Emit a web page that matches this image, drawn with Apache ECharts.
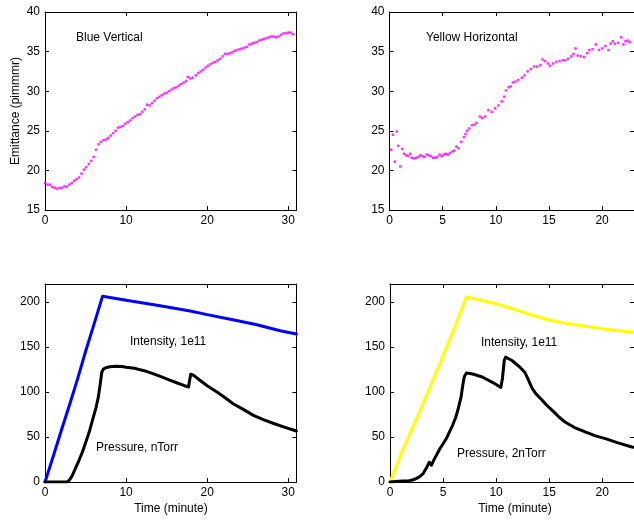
<!DOCTYPE html>
<html>
<head>
<meta charset="utf-8">
<script src="https://cdn.jsdelivr.net/npm/echarts@6/dist/echarts.min.js"></script>
<style>
  html, body { margin: 0; padding: 0; background: #fff; }
  #chart { width: 634px; height: 521px; }
</style>
</head>
<body>
<div id="chart"></div>
<script>
// 上左：Blue Vertical 发射度 [时间(分钟), 值]
const blueVertical = [
  [0.0,18.4],[0.3,18.2],[0.6,18.2],[0.9,17.9],[1.2,17.8],[1.5,17.7],[1.8,17.8],[2.1,17.8],
  [2.4,18.0],[2.7,17.9],[3.0,18.2],[3.3,18.4],[3.6,18.7],[3.9,18.9],[4.2,19.1],[4.5,19.6],
  [4.8,20.1],[5.1,20.4],[5.4,20.8],[5.7,21.2],[6.0,21.7],[6.3,22.6],[6.6,23.3],[6.9,23.6],
  [7.2,23.8],[7.5,23.9],[7.8,24.1],[8.1,24.4],[8.4,24.7],[8.7,25.0],[9.0,25.4],[9.3,25.5],
  [9.6,25.6],[9.9,25.9],[10.2,26.1],[10.5,26.3],[10.8,26.6],[11.1,26.8],[11.4,27.0],[11.7,27.1],
  [12.0,27.4],[12.3,27.7],[12.6,28.3],[12.9,28.2],[13.2,28.5],[13.5,28.8],[13.8,29.1],[14.1,29.3],
  [14.4,29.5],[14.7,29.7],[15.0,29.8],[15.3,30.0],[15.6,30.2],[15.9,30.4],[16.2,30.5],[16.5,30.7],
  [16.8,30.9],[17.1,31.1],[17.4,31.3],[17.6,31.8],[17.9,31.6],[18.2,31.7],[18.6,32.0],[18.9,32.3],
  [19.2,32.5],[19.5,32.7],[19.8,33.0],[20.1,33.2],[20.4,33.4],[20.7,33.6],[21.0,33.7],[21.3,33.9],
  [21.6,34.1],[21.9,34.4],[22.2,34.7],[22.5,34.7],[22.8,34.8],[23.1,34.9],[23.4,35.1],[23.7,35.2],
  [24.0,35.3],[24.3,35.4],[24.6,35.5],[24.9,35.6],[25.2,35.9],[25.5,36.0],[25.8,36.1],[26.1,36.2],
  [26.4,36.4],[26.7,36.5],[27.0,36.6],[27.3,36.7],[27.6,36.8],[27.9,36.9],[28.2,36.9],[28.5,36.8],
  [28.8,36.9],[29.1,37.1],[29.4,37.3],[29.7,37.3],[30.0,37.4],[30.3,37.4],[30.6,37.2]
]

// 上右：Yellow Horizontal 发射度
const yellowHorizontal = [
  [0.16,22.6],[0.32,24.5],[0.5,21.1],[0.68,24.9],[0.83,23.1],[1.02,20.5],[1.2,22.7],[1.36,22.1],
  [1.58,21.9],[1.77,21.8],[1.95,22.1],[2.1,21.6],[2.3,21.5],[2.5,21.6],[2.7,21.7],[2.9,21.9],
  [3.1,21.8],[3.3,21.7],[3.5,22.0],[3.7,21.9],[3.9,21.8],[4.1,21.6],[4.3,21.6],[4.5,21.7],
  [4.7,22.0],[4.9,21.8],[5.1,22.0],[5.3,22.1],[5.5,22.0],[5.7,22.2],[5.93,22.4],[6.1,22.5],
  [6.3,23.0],[6.5,22.8],[6.75,23.6],[7.0,24.2],[7.15,24.6],[7.3,25.0],[7.5,25.3],[7.76,25.7],
  [8.0,25.8],[8.2,26.0],[8.5,26.8],[8.7,26.6],[9.0,26.8],[9.3,27.6],[9.6,27.4],[9.94,27.85],
  [10.25,28.2],[10.55,28.7],[10.8,29.3],[10.96,30.1],[11.2,30.5],[11.4,30.6],[11.6,31.1],[11.85,31.2],
  [12.1,31.4],[12.45,31.7],[12.7,32.0],[13.0,32.5],[13.3,32.8],[13.6,33.1],[13.9,33.1],[14.2,33.3],
  [14.4,34.0],[14.65,33.8],[14.9,33.5],[15.1,33.2],[15.4,33.5],[15.7,33.7],[16.0,33.8],[16.3,33.9],
  [16.55,33.9],[16.8,34.1],[17.1,34.4],[17.3,34.7],[17.5,35.4],[17.7,34.5],[18.0,34.4],[18.3,34.3],
  [18.6,34.8],[18.8,35.2],[19.1,35.3],[19.4,35.9],[19.7,35.2],[20.0,35.4],[20.3,35.7],[20.6,35.2],
  [20.8,36.0],[21.0,36.3],[21.2,36.0],[21.5,36.1],[21.8,36.8],[22.0,35.9],[22.2,36.3],[22.4,36.4],
  [22.6,36.2]
]

// 下左：蓝束流强度 与 真空压力
const blueIntensity = [
  [0,0],[1,28],[2,57],[3,85],[4,114],[5,145],[6,174],[7.1,206.5],[10,202],[14,196],
  [17.9,190],[20,186],[23,180.5],[26,175],[29,168],[31,164.5]
]
const bluePressure = [
  [0,0],[1,0],[2,0],[2.7,0],[3.0,2],[3.3,6],[3.7,14],[4.1,22],[4.6,33],[5.1,46],[5.5,57],
  [5.96,72],[6.3,83],[6.57,94],[6.8,108],[7.0,122],[7.2,125.5],[7.5,127],[8.0,128],[8.8,128.5],
  [9.5,128.3],[10.0,127.6],[11.0,126.5],[11.6,125],[12.5,123],[13.3,120.5],[14.3,117],
  [15.3,113.5],[16.3,110],[17.2,107],[17.7,105.6],[17.8,103.6],[17.96,119.7],[18.3,118.6],
  [18.7,116],[19.1,113],[20.0,107],[21.2,100],[22.0,95],[23.2,87],[24.4,81],[25.7,74],
  [27.0,69],[28.2,65],[29.5,61],[31,56.7]
]

// 下右：黄束流强度 与 真空压力
const yellowIntensity = [
  [0,0],[1,30],[2,57],[3,84],[4,112],[5,140],[6,169],[7.2,205.5],[10,198],[12.2,190],
  [13.5,185],[15,180],[16.5,176.5],[18.4,173],[20.5,169.5],[23,166.5]
]
const yellowPressure = [
  [0,0],[0.5,0.5],[1.2,1],[1.8,1.5],[2.2,2.5],[2.5,4],[2.8,6],[3.1,9],[3.3,13],[3.5,17],
  [3.7,22],[3.9,18.6],[4.2,26],[4.7,37],[5.3,48],[5.9,63],[6.2,72],[6.4,80],[6.7,94.5],
  [6.85,107],[7.0,117],[7.2,121],[7.8,120],[8.7,116.7],[9.7,110.5],[10.45,105],[10.6,115],
  [10.77,135],[10.9,138.7],[11.5,135],[12.3,127],[12.7,122],[12.95,116],[13.4,104],
  [13.7,99],[14.0,95],[14.35,90.8],[14.8,85],[15.3,79.6],[15.9,72.5],[16.5,66.7],[17.4,60.5],
  [18.4,55.6],[19.3,51.5],[20.3,48.2],[21.5,43.5],[22.8,38.9],[23,38.5]
]

const FONT = 'Liberation Sans, Arial, Helvetica, sans-serif'

// 四个子图的位置
const grids = [
  {left: 45, top: 12, width: 251.4, height: 198},
  {left: 389.5, top: 12, width: 246, height: 198},
  {left: 45, top: 284, width: 251.4, height: 198},
  {left: 390, top: 284, width: 245.8, height: 198}
]

// 每个子图四条边都画刻度（MATLAB风格，刻度朝内）
function axisBase(min, max, interval, position, showLabel){
  return {
    type: 'value', min: min, max: max, interval: interval, position: position,
    axisLine: {show: true, onZero: false, lineStyle: {color: '#000', width: 1}},
    axisTick: {show: true, inside: true, length: 4, lineStyle: {color: '#000'}},
    splitLine: {show: false},
    axisLabel: {show: showLabel, color: '#000', fontSize: 12, fontFamily: FONT, margin: 5,
      showMaxLabel: false}
  }
}

const xRanges = [[0, 31, 10], [0, 23, 5], [0, 31, 10], [0, 23, 5]]
const yRanges = [[15, 40, 5], [15, 40, 5], [0, 220, 50], [0, 220, 50]]

const xAxes = []
const yAxes = []
grids.forEach((g, i) => {
  const xr = xRanges[i], yr = yRanges[i]
  xAxes.push(Object.assign(axisBase(xr[0], xr[1], xr[2], 'bottom', true), {gridIndex: i}))
  xAxes.push(Object.assign(axisBase(xr[0], xr[1], xr[2], 'top', false), {gridIndex: i}))
  yAxes.push(Object.assign(axisBase(yr[0], yr[1], yr[2], 'left', true), {gridIndex: i}))
  yAxes.push(Object.assign(axisBase(yr[0], yr[1], yr[2], 'right', false), {gridIndex: i}))
})
// 顶部 40 处显示标签
yAxes[0].axisLabel.showMaxLabel = true
yAxes[2].axisLabel.showMaxLabel = true

function dots(data, g){
  return {type: 'scatter', xAxisIndex: g * 2, yAxisIndex: g * 2, data: data,
    symbol: 'rect', symbolSize: 2.5, itemStyle: {color: '#ff00ff'}, silent: true}
}
function line(data, g, color){
  return {type: 'line', xAxisIndex: g * 2, yAxisIndex: g * 2, data: data,
    showSymbol: false, symbol: 'none', silent: true,
    lineStyle: {color: color, width: 3, cap: 'round', join: 'round'}}
}

function label(text, x, y){
  return {type: 'text', x: x, y: y, z: 100,
    style: {text: text, fill: '#000', font: '12px ' + FONT, align: 'left', verticalAlign: 'middle'}}
}

const option = {
  animation: false,
  backgroundColor: '#fff',
  grid: grids,
  xAxis: xAxes,
  yAxis: yAxes,
  series: [
    dots(blueVertical, 0),
    dots(yellowHorizontal, 1),
    line(blueIntensity, 2, '#0000ff'),
    line(bluePressure, 2, '#000'),
    line(yellowIntensity, 3, '#ffff00'),
    line(yellowPressure, 3, '#000')
  ],
  graphic: [
    label('Blue Vertical', 76, 38),
    label('Yellow Horizontal', 426, 38),
    label('Intensity, 1e11', 130, 342),
    label('Pressure, nTorr', 96, 448),
    label('Intensity, 1e11', 481, 343),
    label('Pressure, 2nTorr', 457, 454),
    {type: 'text', x: 16, y: 111, rotation: Math.PI / 2, z: 100,
      style: {text: 'Emittance (pimmmr)', fill: '#000', font: '12px ' + FONT,
        align: 'center', verticalAlign: 'middle'}},
    {type: 'text', x: 171, y: 509, z: 100,
      style: {text: 'Time (minute)', fill: '#000', font: '12px ' + FONT,
        align: 'center', verticalAlign: 'middle'}},
    {type: 'text', x: 515, y: 509, z: 100,
      style: {text: 'Time (minute)', fill: '#000', font: '12px ' + FONT,
        align: 'center', verticalAlign: 'middle'}}
  ]
}

const chart = echarts.init(document.getElementById('chart'), null, {renderer: 'canvas'})
chart.setOption(option)
</script>
</body>
</html>
